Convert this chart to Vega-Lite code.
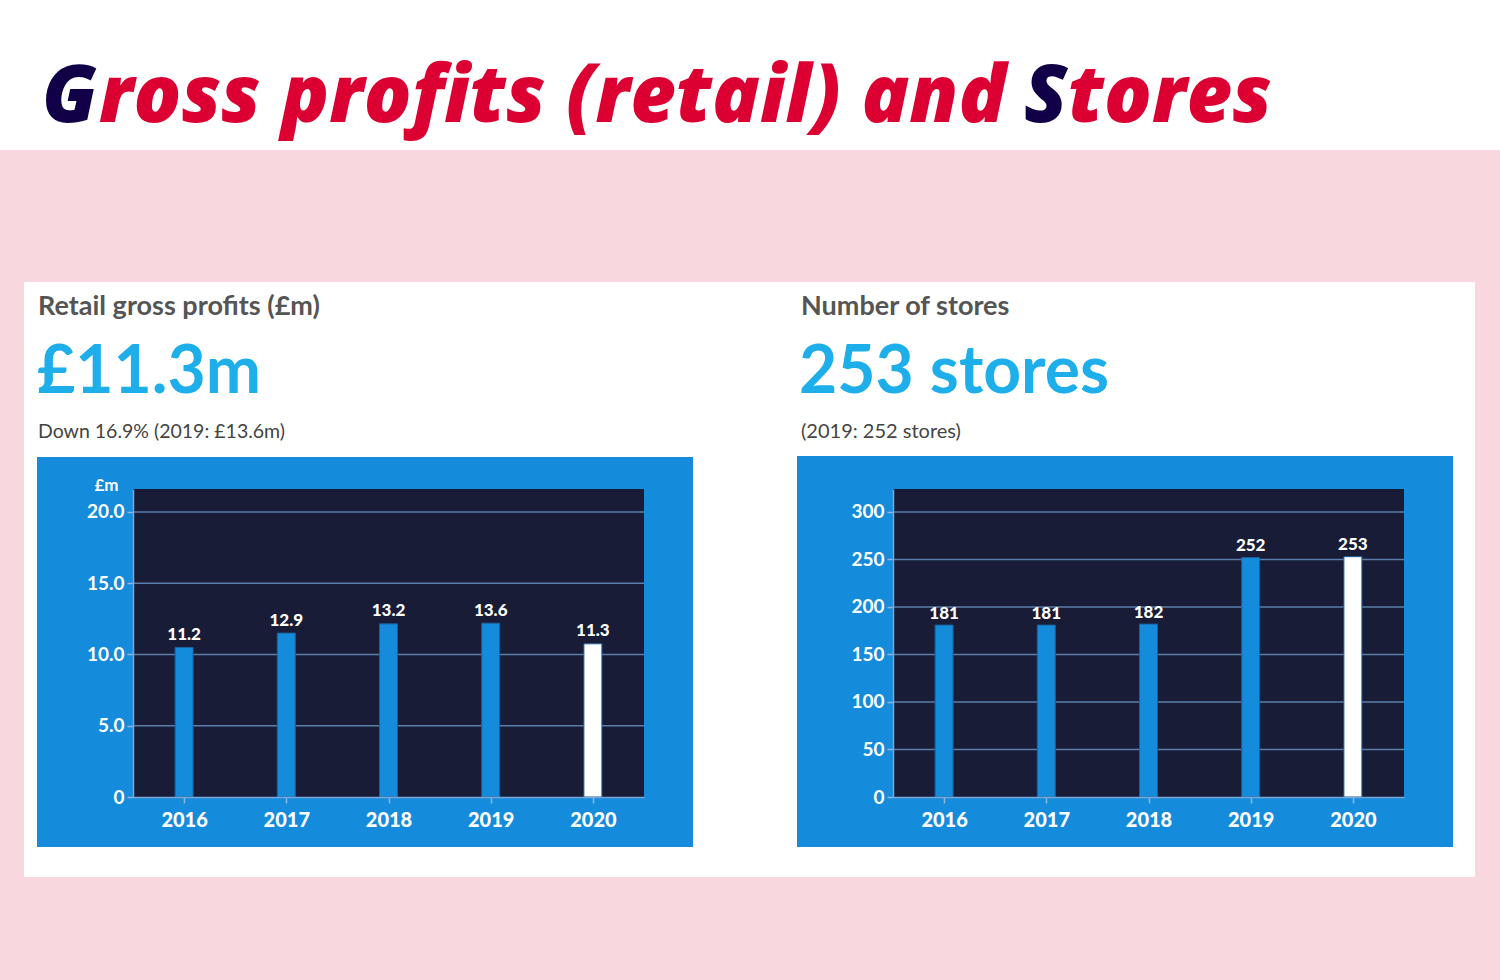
{
  "$schema": "https://vega.github.io/schema/vega-lite/v6.json",
  "background": "#f8d7de",
  "padding": {"left": -1, "top": -1, "right": 0, "bottom": 104},
  "bounds": "flush",
  "spacing": 249,
  "config": {
    "view": {"stroke": null},
    "font": "Lato",
    "scale": {"continuousPadding": 0},
    "axis": {
      "labelColor": "#ffffff",
      "labelFont": "Lato",
      "domainColor": "#7aa6d8",
      "domainWidth": 1.5,
      "tickColor": "#8fb6e0",
      "tickWidth": 1.5,
      "tickSize": 6,
      "grid": false
    }
  },
  "datasets": {
    "profits": [
      {"year": 2016, "value": 10.5, "label": "11.2"},
      {"year": 2017, "value": 11.5, "label": "12.9"},
      {"year": 2018, "value": 12.15, "label": "13.2"},
      {"year": 2019, "value": 12.2, "label": "13.6"},
      {"year": 2020, "value": 10.75, "label": "11.3"}
    ],
    "stores": [
      {"year": 2016, "value": 181, "label": "181"},
      {"year": 2017, "value": 181, "label": "181"},
      {"year": 2018, "value": 182, "label": "182"},
      {"year": 2019, "value": 252, "label": "252"},
      {"year": 2020, "value": 253, "label": "253"}
    ],
    "profitTicks": [{"tick": 5}, {"tick": 10}, {"tick": 15}, {"tick": 20}],
    "storeTicks": [{"tick": 50}, {"tick": 100}, {"tick": 150}, {"tick": 200}, {"tick": 250}, {"tick": 300}],
    "one": [{}]
  },
  "hconcat": [
    {
      "width": 511,
      "height": 308,
      "layer": [
        {
          "data": {"name": "one"},
          "mark": {"type": "rect", "fill": "#ffffff"},
          "encoding": {
            "x": {"datum": 2014.1986, "type": "quantitative", "scale": {"domain": [2015.5, 2020.5], "nice": false, "zero": false, "padding": 0}},
            "x2": {"datum": 2028.8757},
            "y": {"datum": 55.93, "type": "quantitative", "scale": {"domain": [0, 21.614], "nice": false, "zero": false}},
            "y2": {"datum": 45.404}
          }
        },
        {
          "data": {"name": "one"},
          "mark": {"type": "rect", "fill": "#ffffff"},
          "encoding": {
            "x": {"datum": 2014.4335, "type": "quantitative", "scale": {"domain": [2015.5, 2020.5], "nice": false, "zero": false, "padding": 0}},
            "x2": {"datum": 2028.6311},
            "y": {"datum": 36.14, "type": "quantitative", "scale": {"domain": [0, 21.614], "nice": false, "zero": false}},
            "y2": {"datum": -5.614}
          }
        },
        {
          "data": {"name": "one"},
          "mark": {"type": "rect", "fill": "#148bdb"},
          "encoding": {
            "x": {"datum": 2014.5607, "type": "quantitative", "scale": {"domain": [2015.5, 2020.5], "nice": false, "zero": false, "padding": 0}},
            "x2": {"datum": 2020.9795},
            "y": {"datum": 23.86, "type": "quantitative", "scale": {"domain": [0, 21.614], "nice": false, "zero": false}},
            "y2": {"datum": -3.509}
          }
        },
        {
          "data": {"name": "one"},
          "mark": {"type": "rect", "fill": "#181c36"},
          "encoding": {
            "x": {"datum": 2015.5, "type": "quantitative", "scale": {"domain": [2015.5, 2020.5], "nice": false, "zero": false, "padding": 0}},
            "x2": {"datum": 2020.5},
            "y": {"datum": 21.614, "type": "quantitative", "scale": {"domain": [0, 21.614], "nice": false, "zero": false}},
            "y2": {"datum": 0}
          }
        },
        {
          "data": {"name": "profitTicks"},
          "mark": {"type": "rule", "stroke": "#5b7ea8", "strokeWidth": 1.5},
          "encoding": {
            "y": {"field": "tick", "type": "quantitative", "scale": {"domain": [0, 21.614], "nice": false, "zero": false}}
          }
        },
        {
          "data": {"name": "profits"},
          "mark": {"type": "bar", "size": 18, "orient": "vertical", "stroke": "#1d5f99", "strokeWidth": 1},
          "encoding": {
            "x": {
              "field": "year", "type": "quantitative",
              "scale": {"domain": [2015.5, 2020.5], "nice": false, "zero": false, "padding": 0},
              "axis": {"values": [2016, 2017, 2018, 2019, 2020], "format": "d", "title": null, "labelFontSize": 20, "labelFontWeight": 900, "labelPadding": 7, "labelFlush": false, "zindex": 1}
            },
            "y": {
              "field": "value", "type": "quantitative",
              "scale": {"domain": [0, 21.614], "nice": false, "zero": false},
              "axis": {
                "values": [0, 5, 10, 15, 20],
                "labelExpr": "datum.value == 0 ? '0' : format(datum.value, '.1f')",
                "labelFontSize": 19, "labelFontWeight": 700, "labelPadding": 3, "zindex": 1,
                "title": "£m", "titleAngle": 0, "titleAlign": "right", "titleBaseline": "alphabetic",
                "titleX": -15, "titleY": 1, "titleColor": "#ffffff", "titleFont": "Lato", "titleFontSize": 17, "titleFontWeight": 700
              }
            },
            "color": {"condition": {"test": "datum.year === 2020", "value": "#ffffff"}, "value": "#148bdb"}
          }
        },
        {
          "data": {"name": "profits"},
          "mark": {"type": "text", "align": "center", "baseline": "alphabetic", "dy": -7.5, "fontSize": 17, "fontWeight": 900, "fill": "#ffffff", "font": "Lato"},
          "encoding": {
            "x": {"field": "year", "type": "quantitative", "scale": {"domain": [2015.5, 2020.5], "nice": false, "zero": false, "padding": 0}},
            "y": {"field": "value", "type": "quantitative", "scale": {"domain": [0, 21.614], "nice": false, "zero": false}},
            "text": {"field": "label"}
          }
        },
        {
          "data": {"name": "one"},
          "mark": {"type": "text", "align": "left", "baseline": "alphabetic", "font": "Open Sans", "fontSize": 79, "fontWeight": 800, "fontStyle": "italic", "fill": "#110047", "text": "G"},
          "encoding": {
            "x": {"datum": 2014.6096, "type": "quantitative", "scale": {"domain": [2015.5, 2020.5], "nice": false, "zero": false, "padding": 0}},
            "y": {"datum": 47.368, "type": "quantitative", "scale": {"domain": [0, 21.614], "nice": false, "zero": false}}
          }
        },
        {
          "data": {"name": "one"},
          "mark": {"type": "text", "align": "left", "baseline": "alphabetic", "font": "Open Sans", "fontSize": 79, "fontWeight": 800, "fontStyle": "italic", "fill": "#dc0032", "text": "ross profits (retail) and"},
          "encoding": {
            "x": {"datum": 2015.1673, "type": "quantitative", "scale": {"domain": [2015.5, 2020.5], "nice": false, "zero": false, "padding": 0}},
            "y": {"datum": 47.368, "type": "quantitative", "scale": {"domain": [0, 21.614], "nice": false, "zero": false}}
          }
        },
        {
          "data": {"name": "one"},
          "mark": {"type": "text", "align": "left", "baseline": "alphabetic", "font": "Open Sans", "fontSize": 79, "fontWeight": 800, "fontStyle": "italic", "fill": "#110047", "text": "S"},
          "encoding": {
            "x": {"datum": 2024.2182, "type": "quantitative", "scale": {"domain": [2015.5, 2020.5], "nice": false, "zero": false, "padding": 0}},
            "y": {"datum": 47.368, "type": "quantitative", "scale": {"domain": [0, 21.614], "nice": false, "zero": false}}
          }
        },
        {
          "data": {"name": "one"},
          "mark": {"type": "text", "align": "left", "baseline": "alphabetic", "font": "Open Sans", "fontSize": 79, "fontWeight": 800, "fontStyle": "italic", "fill": "#dc0032", "text": "tores"},
          "encoding": {
            "x": {"datum": 2024.6487, "type": "quantitative", "scale": {"domain": [2015.5, 2020.5], "nice": false, "zero": false, "padding": 0}},
            "y": {"datum": 47.368, "type": "quantitative", "scale": {"domain": [0, 21.614], "nice": false, "zero": false}}
          }
        },
        {
          "data": {"name": "one"},
          "mark": {"type": "text", "align": "left", "baseline": "alphabetic", "font": "Lato", "fontSize": 27, "fontWeight": 700, "fill": "#555555", "text": "Retail gross profits (£m)"},
          "encoding": {
            "x": {"datum": 2014.5705, "type": "quantitative", "scale": {"domain": [2015.5, 2020.5], "nice": false, "zero": false, "padding": 0}},
            "y": {"datum": 33.825, "type": "quantitative", "scale": {"domain": [0, 21.614], "nice": false, "zero": false}}
          }
        },
        {
          "data": {"name": "one"},
          "mark": {"type": "text", "align": "left", "baseline": "alphabetic", "font": "Lato", "fontSize": 66, "fontWeight": 700, "fill": "#1eaeea", "text": "£11.3m"},
          "encoding": {
            "x": {"datum": 2014.5607, "type": "quantitative", "scale": {"domain": [2015.5, 2020.5], "nice": false, "zero": false, "padding": 0}},
            "y": {"datum": 28.351, "type": "quantitative", "scale": {"domain": [0, 21.614], "nice": false, "zero": false}}
          }
        },
        {
          "data": {"name": "one"},
          "mark": {"type": "text", "align": "left", "baseline": "alphabetic", "font": "Lato", "fontSize": 19.5, "fontWeight": 400, "fill": "#444444", "text": "Down 16.9% (2019: £13.6m)"},
          "encoding": {
            "x": {"datum": 2014.5705, "type": "quantitative", "scale": {"domain": [2015.5, 2020.5], "nice": false, "zero": false, "padding": 0}},
            "y": {"datum": 25.193, "type": "quantitative", "scale": {"domain": [0, 21.614], "nice": false, "zero": false}}
          }
        }
      ]
    },
    {
      "width": 511,
      "height": 308,
      "layer": [
        {
          "data": {"name": "one"},
          "mark": {"type": "rect", "fill": "#148bdb"},
          "encoding": {
            "x": {"datum": 2014.5607, "type": "quantitative", "scale": {"domain": [2015.5, 2020.5], "nice": false, "zero": false, "padding": 0}},
            "x2": {"datum": 2020.9795},
            "y": {"datum": 358.95, "type": "quantitative", "scale": {"domain": [0, 324.21], "nice": false, "zero": false}},
            "y2": {"datum": -52.63}
          }
        },
        {
          "data": {"name": "one"},
          "mark": {"type": "rect", "fill": "#181c36"},
          "encoding": {
            "x": {"datum": 2015.5, "type": "quantitative", "scale": {"domain": [2015.5, 2020.5], "nice": false, "zero": false, "padding": 0}},
            "x2": {"datum": 2020.5},
            "y": {"datum": 324.21, "type": "quantitative", "scale": {"domain": [0, 324.21], "nice": false, "zero": false}},
            "y2": {"datum": 0}
          }
        },
        {
          "data": {"name": "storeTicks"},
          "mark": {"type": "rule", "stroke": "#5b7ea8", "strokeWidth": 1.5},
          "encoding": {
            "y": {"field": "tick", "type": "quantitative", "scale": {"domain": [0, 324.21], "nice": false, "zero": false}}
          }
        },
        {
          "data": {"name": "stores"},
          "mark": {"type": "bar", "size": 18, "orient": "vertical", "stroke": "#1d5f99", "strokeWidth": 1},
          "encoding": {
            "x": {
              "field": "year", "type": "quantitative",
              "scale": {"domain": [2015.5, 2020.5], "nice": false, "zero": false, "padding": 0},
              "axis": {"values": [2016, 2017, 2018, 2019, 2020], "format": "d", "title": null, "labelFontSize": 20, "labelFontWeight": 900, "labelPadding": 7, "labelFlush": false, "zindex": 1}
            },
            "y": {
              "field": "value", "type": "quantitative",
              "scale": {"domain": [0, 324.21], "nice": false, "zero": false},
              "axis": {"values": [0, 50, 100, 150, 200, 250, 300], "format": "d", "labelFontSize": 19, "labelFontWeight": 700, "labelPadding": 3, "title": null, "zindex": 1}
            },
            "color": {"condition": {"test": "datum.year === 2020", "value": "#ffffff"}, "value": "#148bdb"}
          }
        },
        {
          "data": {"name": "stores"},
          "mark": {"type": "text", "align": "center", "baseline": "alphabetic", "dy": -6.5, "fontSize": 17, "fontWeight": 900, "fill": "#ffffff", "font": "Lato"},
          "encoding": {
            "x": {"field": "year", "type": "quantitative", "scale": {"domain": [2015.5, 2020.5], "nice": false, "zero": false, "padding": 0}},
            "y": {"field": "value", "type": "quantitative", "scale": {"domain": [0, 324.21], "nice": false, "zero": false}},
            "text": {"field": "label"}
          }
        },
        {
          "data": {"name": "one"},
          "mark": {"type": "text", "align": "left", "baseline": "alphabetic", "font": "Lato", "fontSize": 27, "fontWeight": 700, "fill": "#555555", "text": "Number of stores"},
          "encoding": {
            "x": {"datum": 2014.5998, "type": "quantitative", "scale": {"domain": [2015.5, 2020.5], "nice": false, "zero": false, "padding": 0}},
            "y": {"datum": 507.37, "type": "quantitative", "scale": {"domain": [0, 324.21], "nice": false, "zero": false}}
          }
        },
        {
          "data": {"name": "one"},
          "mark": {"type": "text", "align": "left", "baseline": "alphabetic", "font": "Lato", "fontSize": 66, "fontWeight": 700, "fill": "#1eaeea", "text": "253 stores"},
          "encoding": {
            "x": {"datum": 2014.5802, "type": "quantitative", "scale": {"domain": [2015.5, 2020.5], "nice": false, "zero": false, "padding": 0}},
            "y": {"datum": 425.26, "type": "quantitative", "scale": {"domain": [0, 324.21], "nice": false, "zero": false}}
          }
        },
        {
          "data": {"name": "one"},
          "mark": {"type": "text", "align": "left", "baseline": "alphabetic", "font": "Lato", "fontSize": 20, "fontWeight": 400, "fill": "#444444", "text": "(2019: 252 stores)"},
          "encoding": {
            "x": {"datum": 2014.5998, "type": "quantitative", "scale": {"domain": [2015.5, 2020.5], "nice": false, "zero": false, "padding": 0}},
            "y": {"datum": 377.89, "type": "quantitative", "scale": {"domain": [0, 324.21], "nice": false, "zero": false}}
          }
        }
      ]
    }
  ]
}
